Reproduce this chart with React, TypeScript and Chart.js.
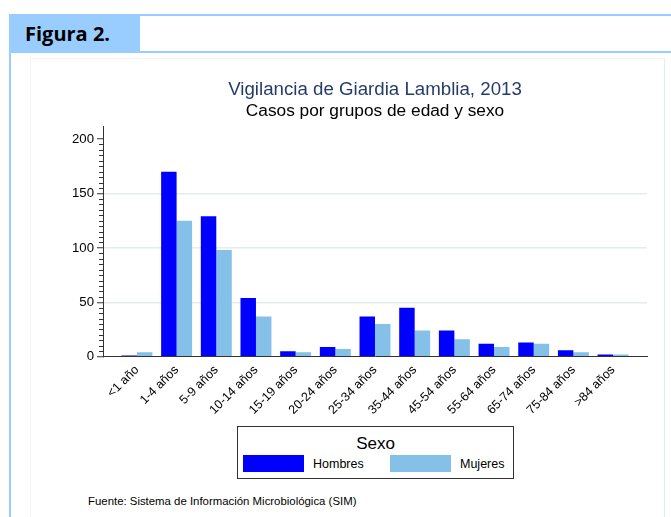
import React, { useEffect, useRef } from 'react';
import { Chart, registerables } from 'chart.js';

Chart.register(...registerables);

// ---- data ----
const categories = [
  '<1 año', '1-4 años', '5-9 años', '10-14 años', '15-19 años', '20-24 años',
  '25-34 años', '35-44 años', '45-54 años', '55-64 años', '65-74 años', '75-84 años', '>84 años',
];
const hombres = [1, 170, 129, 54, 5, 9, 37, 45, 24, 12, 13, 6, 2];
const mujeres = [4, 125, 98, 37, 4, 7, 30, 24, 16, 9, 12, 4, 2];
const seriesNames = ['Hombres', 'Mujeres'];
const seriesColors = ['#0000ff', '#85c0e9'];
const yMajorStep = 50;
const yMinorStep = 5;
const yLastLabel = 200;
const yMax = 212;
const gridValues = [50, 100, 150];
const titleText = 'Vigilancia de Giardia Lamblia, 2013';
const subtitleText = 'Casos por grupos de edad y sexo';
const legendTitle = 'Sexo';
const footerText = 'Fuente: Sistema de Información Microbiológica (SIM)';
const figureLabel = 'Figura 2.';

const ARIAL = "'Liberation Sans', Arial, Helvetica, sans-serif";
const HEADER_BLUE = '#99ccff';

const minorTicksPlugin = {
  id: 'minorTicks',
  afterDraw(chart: any) {
    const y = chart.scales.y;
    const ctx = chart.ctx;
    ctx.save();
    ctx.strokeStyle = '#333333';
    ctx.lineWidth = 1;
    for (let v = yMinorStep; v < yLastLabel; v += yMinorStep) {
      if (v % yMajorStep === 0) continue;
      const py = Math.round(y.getPixelForValue(v)) + 0.5;
      ctx.beginPath();
      ctx.moveTo(y.right - 4, py);
      ctx.lineTo(y.right, py);
      ctx.stroke();
    }
    ctx.restore();
  },
};

export default function App() {
  const canvasRef = useRef<HTMLCanvasElement | null>(null);

  useEffect(() => {
    if (!canvasRef.current) return;
    const chart = new Chart(canvasRef.current, {
      type: 'bar',
      data: {
        datasets: [
          {
            label: seriesNames[0],
            data: hombres.map((v, i) => ({ x: i, y: v })),
            backgroundColor: seriesColors[0],
            borderWidth: 0,
            categoryPercentage: 0.78,
            barPercentage: 1,
          },
          {
            label: seriesNames[1],
            data: mujeres.map((v, i) => ({ x: i, y: v })),
            backgroundColor: seriesColors[1],
            borderWidth: 0,
            categoryPercentage: 0.78,
            barPercentage: 1,
          },
        ],
      },
      options: {
        responsive: false,
        animation: false,
        layout: { padding: { left: 0, right: 17, top: 0, bottom: 0 } },
        plugins: {
          legend: { display: false },
          tooltip: { enabled: false },
          title: {
            display: true,
            text: titleText,
            fullSize: false,
            color: '#263b69',
            font: { family: ARIAL, size: 18.7, weight: 'normal', lineHeight: 1 },
            padding: { top: 23, bottom: 0 },
          },
          subtitle: {
            display: true,
            text: subtitleText,
            fullSize: false,
            color: '#000000',
            font: { family: ARIAL, size: 17.3, weight: 'normal', lineHeight: 1 },
            padding: { top: 2.5, bottom: 6.5 },
          },
        },
        scales: {
          x: {
            type: 'linear',
            offset: false,
            min: -0.855,
            max: 12.855,
            grid: { display: true, color: 'rgba(0,0,0,0)', drawTicks: false, offset: false },
            border: { display: true, color: '#333333', width: 1 },
            ticks: {
              stepSize: 1,
              includeBounds: false,
              autoSkip: false,
              maxRotation: 45,
              minRotation: 45,
              padding: 6,
              color: '#000000',
              font: { family: ARIAL, size: 12.5 },
              callback: (v: any) => (categories[v as number] !== undefined ? categories[v as number] : ''),
            },
            afterFit: (s: any) => {
              s.height = 63.3;
            },
          },
          y: {
            min: 0,
            max: yMax,
            grid: {
              color: (ctx: any) =>
                ctx.tick && gridValues.includes(ctx.tick.value) ? '#e3ecee' : 'rgba(0,0,0,0)',
              lineWidth: 1.5,
              tickColor: '#333333',
              tickWidth: 1,
              tickLength: 6,
              drawTicks: true,
            },
            border: { display: true, color: '#333333', width: 1 },
            ticks: {
              stepSize: yMajorStep,
              includeBounds: false,
              padding: 3,
              color: '#000000',
              font: { family: ARIAL, size: 13.2 },
            },
            afterFit: (s: any) => {
              s.width = 73;
            },
          },
        },
      },
      plugins: [minorTicksPlugin],
    } as any);
    return () => chart.destroy();
  }, []);

  const abs = (o: any): React.CSSProperties => ({ position: 'absolute', ...o });

  return (
    <div style={abs({ left: 0, top: 0, width: 671, height: 517, overflow: 'hidden', background: '#ffffff' })}>
      {/* header */}
      <div style={abs({ left: 9, top: 14, width: 131, height: 39, background: HEADER_BLUE })} />
      <div style={abs({ left: 140, top: 14, width: 531, height: 2, background: HEADER_BLUE })} />
      <div style={abs({ left: 140, top: 51, width: 531, height: 2, background: HEADER_BLUE })} />
      <div style={abs({ left: 9, top: 14, width: 2, height: 503, background: HEADER_BLUE })} />
      <div
        style={abs({
          left: 25,
          top: 41.7 - 0.888 * 20,
          fontFamily: "'Open Sans', sans-serif",
          fontWeight: 700,
          fontSize: 20,
          lineHeight: 1,
          color: '#000',
          whiteSpace: 'nowrap',
        })}
      >
        {figureLabel}
      </div>
      {/* faint graph frame */}
      <div
        style={abs({
          left: 30,
          top: 58,
          width: 635,
          height: 470,
          boxSizing: 'border-box',
          borderTop: '1px solid #f3f5f6',
          borderLeft: '1px solid #f3f5f6',
          borderRight: '1px solid #e4edef',
        })}
      />
      <canvas
        ref={canvasRef}
        width={634}
        height={362}
        style={abs({ left: 30, top: 58, width: 634, height: 362 })}
      />
      {/* legend */}
      <div
        style={abs({
          left: 237,
          top: 426,
          width: 277,
          height: 53,
          boxSizing: 'border-box',
          border: '1px solid #333',
        })}
      />
      <div
        style={abs({
          left: 237,
          width: 277,
          top: 449.3 - 0.8465 * 17,
          textAlign: 'center',
          fontFamily: ARIAL,
          fontSize: 17,
          lineHeight: 1,
          color: '#000',
        })}
      >
        {legendTitle}
      </div>
      <div style={abs({ left: 243, top: 455.3, width: 61, height: 17, background: seriesColors[0] })} />
      <div
        style={abs({ left: 313, top: 469 - 0.8465 * 12.5, fontFamily: ARIAL, fontSize: 12.5, lineHeight: 1, color: '#000', whiteSpace: 'nowrap' })}
      >
        {seriesNames[0]}
      </div>
      <div style={abs({ left: 390, top: 455.3, width: 61, height: 17, background: seriesColors[1] })} />
      <div
        style={abs({ left: 460, top: 469 - 0.8465 * 12.5, fontFamily: ARIAL, fontSize: 12.5, lineHeight: 1, color: '#000', whiteSpace: 'nowrap' })}
      >
        {seriesNames[1]}
      </div>
      {/* footer */}
      <div
        style={abs({ left: 88, top: 505.5 - 0.8465 * 11.4, fontFamily: ARIAL, fontSize: 11.4, lineHeight: 1, color: '#000', whiteSpace: 'nowrap' })}
      >
        {footerText}
      </div>
    </div>
  );
}
